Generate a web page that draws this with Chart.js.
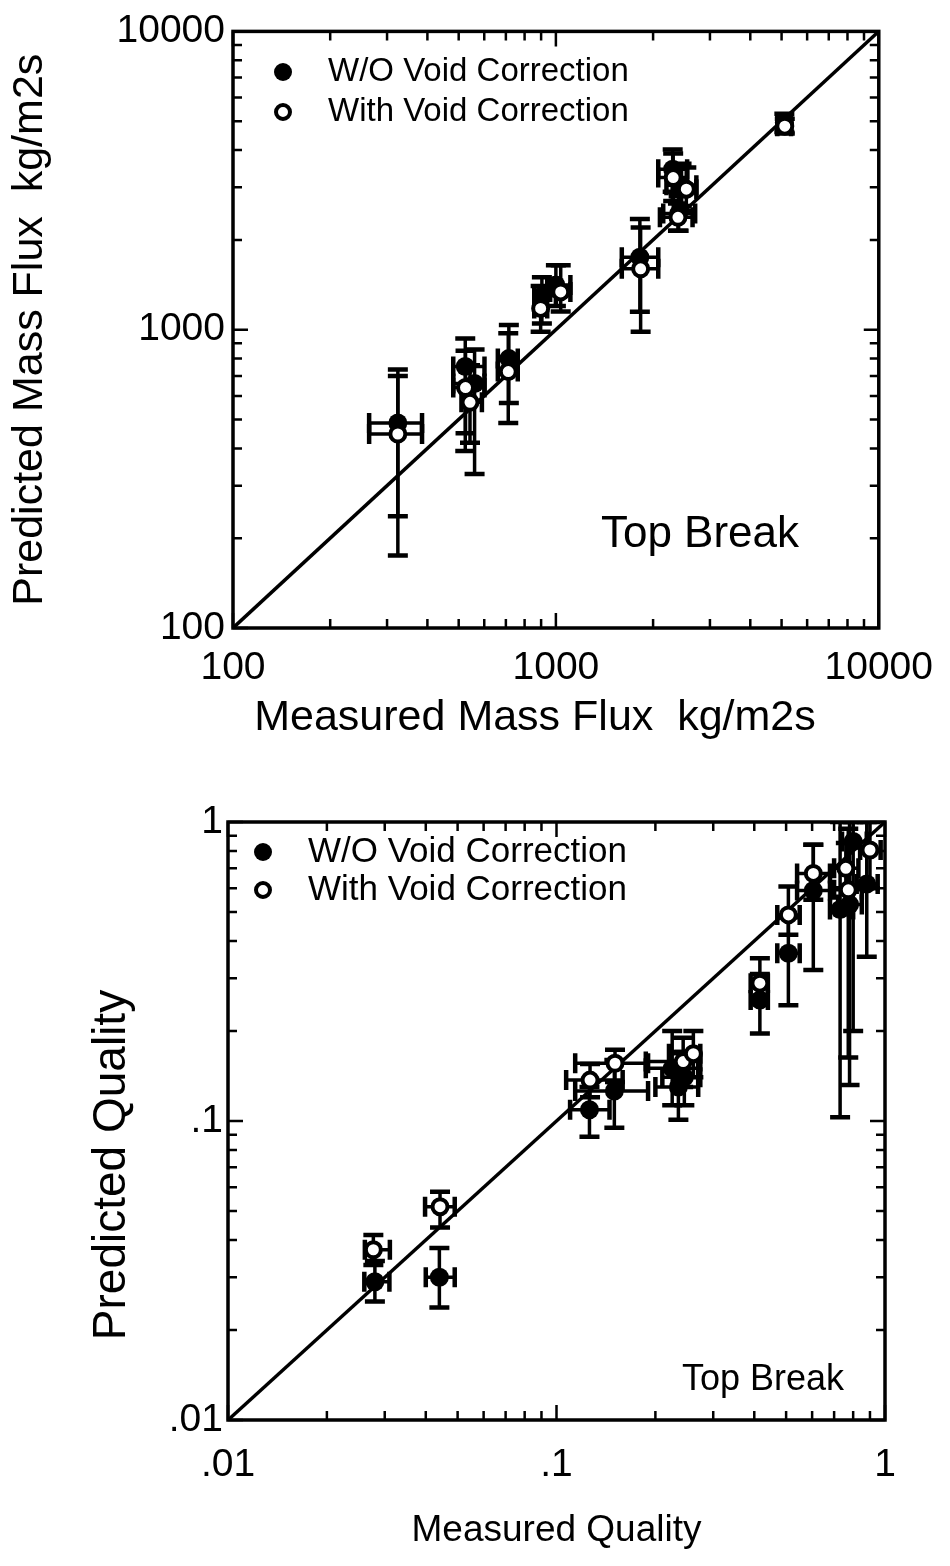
<!DOCTYPE html>
<html>
<head>
<meta charset="utf-8">
<title>Top Break: predicted vs measured</title>
<script src="https://cdn.jsdelivr.net/npm/chart.js@4.4.1/dist/chart.umd.min.js"></script>
<style>
  html, body { margin: 0; padding: 0; background: #fff; }
  #page { position: relative; width: 950px; height: 1566px; overflow: hidden; }
  #fluxBox { position: absolute; left: 0; top: 0; width: 950px; height: 760px; }
  #qualBox { position: absolute; left: 0; top: 760px; width: 950px; height: 806px; }
</style>
</head>
<body>
<div id="page">
  <div id="fluxBox"><canvas id="fluxChart" width="950" height="760"></canvas></div>
  <div id="qualBox"><canvas id="qualChart" width="950" height="806"></canvas></div>
</div>
<script>
// ---- Mass flux, kg/m2s (measured x, predicted y; error ranges as [low, high]) ----
const fluxWO_x    = [324, 524, 560, 715, 905, 1000, 1820, 2300, 2450, 2400, 5100];
const fluxWO_y    = [487, 753, 660, 800, 1300, 1413, 1750, 3450, 3050, 2450, 4950];
const fluxWO_xErr = [[264,385],[481,601],[481,601],[661,762],[857,1000],[940,1109],[1600,2075],[2075,2550],[2200,2723],[2150,2700],[4850,5350]];
const fluxWO_yErr = [[237,736],[392,935],[328,858],[568,1037],[1050,1500],[1200,1644],[1148,2350],[2900,4020],[2600,3600],[2148,2800],[4600,5300]];

const fluxW_x    = [324, 542, 525, 712, 897, 1035, 1830, 2308, 2535, 2388, 5116];
const fluxW_y    = [447, 571, 640, 724, 1178, 1339, 1600, 3236, 2958, 2381, 4810];
const fluxW_xErr = [[264,385],[510,590],[481,601],[661,762],[857,940],[960,1109],[1600,2075],[2075,2550],[2300,2723],[2100,2650],[4850,5350]];
const fluxW_yErr = [[175,700],[418,760],[450,850],[487,973],[985,1400],[1150,1644],[985,2200],[2700,3900],[2500,3500],[2148,2650],[4550,5100]];

// ---- Quality (measured x, predicted y) ----
const qualWO_x    = [0.028, 0.044, 0.126, 0.150, 0.225, 0.235, 0.245, 0.416, 0.508, 0.605, 0.73, 0.78, 0.80, 0.88];
const qualWO_y    = [0.029, 0.030, 0.109, 0.126, 0.150, 0.130, 0.140, 0.254, 0.364, 0.59, 0.51, 0.53, 0.86, 0.62];
const qualWO_xErr = [[0.026,0.031],[0.040,0.049],[0.110,0.145],[0.114,0.19],[0.187,0.27],[0.20,0.27],[0.21,0.274],[0.39,0.44],[0.47,0.55],[0.54,0.68],[0.68,0.80],[0.72,0.85],[0.74,0.88],[0.82,0.95]];
const qualWO_yErr = [[0.0249,0.034],[0.0238,0.0376],[0.0885,0.13],[0.095,0.16],[0.113,0.20],[0.101,0.17],[0.113,0.17],[0.196,0.31],[0.244,0.48],[0.32,0.84],[0.103,1.0],[0.132,1.0],[0.2,1.0],[0.354,1.0]];

const qualW_x    = [0.0277, 0.0442, 0.1265, 0.1507, 0.243, 0.261, 0.416, 0.508, 0.605, 0.773, 0.76, 0.90];
const qualW_y    = [0.0371, 0.0517, 0.137, 0.156, 0.158, 0.168, 0.289, 0.489, 0.673, 0.593, 0.70, 0.806];
const qualW_xErr = [[0.0261,0.0311],[0.0398,0.049],[0.107,0.159],[0.114,0.19],[0.187,0.274],[0.22,0.274],[0.39,0.44],[0.47,0.55],[0.54,0.68],[0.70,0.85],[0.70,0.83],[0.84,0.97]];
const qualW_yErr = [[0.033,0.0416],[0.044,0.058],[0.12,0.155],[0.135,0.173],[0.13,0.19],[0.14,0.20],[0.25,0.35],[0.42,0.608],[0.55,0.84],[0.163,0.95],[0.6,0.85],[0.6,1.0]];

// ---- Axis ticks and labels ----
const fluxTicks = [100, 1000, 10000];
const fluxTickLabels = ['100', '1000', '10000'];
const qualTicks = [0.01, 0.1, 1];
const qualTickLabels = ['.01', '.1', '1'];

const seriesNames = ['W/O Void Correction', 'With Void Correction'];

const INK = '#000';

// Prefer the condensed face when it is installed; sizes below are given for the
// regular face and scaled up so that text keeps the same width in the narrow one.
const NARROW = (() => {
  const c = document.createElement('canvas').getContext('2d');
  const sample = 'Measured Mass Flux 10000';
  c.font = '40px monospace';
  const a = c.measureText(sample).width;
  c.font = '40px "Liberation Sans Narrow", monospace';
  const b = c.measureText(sample).width;
  return Math.abs(a - b) > 1;
})();
const FONT = NARROW ? '"Liberation Sans Narrow", "Liberation Sans", Arial, sans-serif'
                    : '"Liberation Sans", Arial, Helvetica, sans-serif';
const fs = s => NARROW ? Math.round(s / 0.82) : s;

function points(xs, ys) { return xs.map((x, i) => ({ x: x, y: ys[i] })); }

// Frame around the plot area, with inward log ticks on all four sides
const frameTicks = {
  id: 'frameTicks',
  afterDraw(chart) {
    const { ctx, chartArea: a, scales: { x, y } } = chart;
    ctx.save();
    ctx.strokeStyle = INK;
    ctx.lineWidth = 2.5;
    const drawAxisTicks = (scale, horizontal) => {
      const lo = Math.log10(scale.min), hi = Math.log10(scale.max);
      for (let e = Math.floor(lo); e <= Math.ceil(hi); e++) {
        for (let k = 1; k <= 9; k++) {
          const v = k * Math.pow(10, e);
          if (v < scale.min * 0.999 || v > scale.max * 1.001) continue;
          const len = k === 1 ? 15 : 9;
          const p = scale.getPixelForValue(v);
          ctx.beginPath();
          if (horizontal) {
            ctx.moveTo(p, a.bottom); ctx.lineTo(p, a.bottom - len);
            ctx.moveTo(p, a.top); ctx.lineTo(p, a.top + len);
          } else {
            ctx.moveTo(a.left, p); ctx.lineTo(a.left + len, p);
            ctx.moveTo(a.right, p); ctx.lineTo(a.right - len, p);
          }
          ctx.stroke();
        }
      }
    };
    drawAxisTicks(x, true);
    drawAxisTicks(y, false);
    ctx.lineWidth = 3.5;
    ctx.strokeRect(a.left, a.top, a.right - a.left, a.bottom - a.top);
    ctx.restore();
  }
};

// Capped error bars taken from each dataset's xErr / yErr ranges
const errorBars = {
  id: 'errorBars',
  beforeDatasetsDraw(chart) {
    const { ctx, chartArea: a, scales: { x, y } } = chart;
    ctx.save();
    ctx.beginPath();
    ctx.rect(a.left, a.top - 1, a.right - a.left, a.bottom - a.top + 2);
    ctx.clip();
    ctx.strokeStyle = INK;
    const cap = 10;
    chart.data.datasets.forEach(ds => {
      if (!ds.xErr) return;
      ds.data.forEach((pt, i) => {
        const px = x.getPixelForValue(pt.x), py = y.getPixelForValue(pt.y);
        const [xl, xh] = ds.xErr[i], [yl, yh] = ds.yErr[i];
        const xlp = x.getPixelForValue(xl), xhp = x.getPixelForValue(xh);
        const ylp = y.getPixelForValue(yl), yhp = y.getPixelForValue(yh);
        ctx.lineWidth = 3.5;
        ctx.beginPath();
        ctx.moveTo(xlp, py); ctx.lineTo(xhp, py);
        ctx.moveTo(px, ylp); ctx.lineTo(px, yhp);
        ctx.stroke();
        ctx.lineWidth = 4.5;
        ctx.beginPath();
        ctx.moveTo(xlp, py - cap); ctx.lineTo(xlp, py + cap);
        ctx.moveTo(xhp, py - cap); ctx.lineTo(xhp, py + cap);
        ctx.moveTo(px - cap, ylp); ctx.lineTo(px + cap, ylp);
        ctx.moveTo(px - cap, yhp); ctx.lineTo(px + cap, yhp);
        ctx.stroke();
      });
    });
    ctx.restore();
  }
};

// Key, caption and placed axis titles
const keyAndCaption = {
  id: 'keyAndCaption',
  afterDraw(chart, args, opts) {
    const { ctx } = chart;
    ctx.save();
    ctx.fillStyle = INK;
    ctx.strokeStyle = INK;
    ctx.font = fs(opts.keyFont) + 'px ' + FONT;
    ctx.textBaseline = 'middle';
    ctx.textAlign = 'left';
    opts.names.forEach((name, i) => {
      const cy = opts.keyY + i * opts.keyGap;
      ctx.beginPath();
      if (i === 0) {
        ctx.arc(opts.keyX, cy, 9, 0, Math.PI * 2);
        ctx.fill();
      } else {
        ctx.lineWidth = 4;
        ctx.arc(opts.keyX, cy, 7, 0, Math.PI * 2);
        ctx.fillStyle = '#fff'; ctx.fill();
        ctx.stroke();
        ctx.fillStyle = INK;
      }
      ctx.fillText(name, opts.textX, cy);
    });
    ctx.font = fs(opts.capFont) + 'px ' + FONT;
    ctx.textAlign = 'center';
    ctx.fillText(opts.caption, opts.capX, opts.capY);
    (opts.titles || []).forEach(t => {
      ctx.save();
      ctx.translate(t.x, t.y);
      if (t.vertical) ctx.rotate(-Math.PI / 2);
      ctx.font = fs(t.size) + 'px ' + FONT;
      ctx.fillText(t.text, 0, 0);
      ctx.restore();
    });
    ctx.restore();
  }
};

function makeChart(canvasId, cfg) {
  const xs = cfg.ticks;
  const labelFor = v => {
    const i = xs.findIndex(t => Math.abs(t - v) / t < 1e-6);
    return i >= 0 ? cfg.labels[i] : '';
  };
  const axis = (extra) => Object.assign({
    type: 'logarithmic',
    min: xs[0], max: xs[xs.length - 1],
    grid: { display: false, drawTicks: false },
    border: { display: false },
    afterBuildTicks: s => { s.ticks = xs.map(v => ({ value: v, major: true })); }
  }, extra);
  const title = t => t
    ? { display: true, text: t.text, color: INK, font: { family: FONT, size: fs(t.size) }, padding: t.padding }
    : { display: false };

  return new Chart(document.getElementById(canvasId), {
    type: 'scatter',
    data: {
      datasets: [
        {
          label: seriesNames[1],
          data: points(cfg.w.x, cfg.w.y),
          xErr: cfg.w.xErr, yErr: cfg.w.yErr,
          pointStyle: 'circle', pointRadius: 7.5, borderWidth: 4,
          backgroundColor: '#fff', borderColor: INK, order: 1
        },
        {
          label: seriesNames[0],
          data: points(cfg.wo.x, cfg.wo.y),
          xErr: cfg.wo.xErr, yErr: cfg.wo.yErr,
          pointStyle: 'circle', pointRadius: 9.5, borderWidth: 0,
          backgroundColor: INK, borderColor: INK, order: 2
        },
        {
          label: 'y = x',
          type: 'line',
          data: [{ x: xs[0], y: xs[0] }, { x: xs[xs.length - 1], y: xs[xs.length - 1] }],
          borderColor: INK, borderWidth: 3.5, pointRadius: 0, order: 3
        }
      ]
    },
    options: {
      responsive: false,
      animation: false,
      devicePixelRatio: 1,
      layout: { padding: cfg.padding },
      scales: {
        x: axis({
          position: 'bottom',
          ticks: { color: INK, font: { family: FONT, size: fs(cfg.tickSize) }, padding: cfg.xTickPad, maxRotation: 0, autoSkip: false, callback: labelFor },
          title: title(cfg.xTitle),
          afterFit: s => { s.height = cfg.xAxisHeight; }
        }),
        y: axis({
          position: 'left',
          ticks: { color: INK, font: { family: FONT, size: fs(cfg.tickSize) }, padding: cfg.yTickPad, autoSkip: false, callback: labelFor },
          title: title(cfg.yTitle),
          afterFit: s => { s.width = cfg.yAxisWidth; }
        })
      },
      plugins: {
        legend: { display: false },
        tooltip: { enabled: false },
        keyAndCaption: Object.assign({ names: seriesNames }, cfg.key)
      }
    },
    plugins: [errorBars, frameTicks, keyAndCaption]
  });
}

makeChart('fluxChart', {
  ticks: fluxTicks, labels: fluxTickLabels,
  wo: { x: fluxWO_x, y: fluxWO_y, xErr: fluxWO_xErr, yErr: fluxWO_yErr },
  w:  { x: fluxW_x,  y: fluxW_y,  xErr: fluxW_xErr,  yErr: fluxW_yErr },
  padding: { left: 0, right: 65, top: 28, bottom: 0 },
  xAxisHeight: 132, yAxisWidth: 233,
  tickSize: 39, xTickPad: 17, yTickPad: 8,
  xTitle: null,
  yTitle: { text: 'Predicted Mass Flux  kg/m2s', size: 43, padding: { top: 4, bottom: 0 } },
  key: { keyX: 283, keyY: 72, keyGap: 40, textX: 328, keyFont: 33,
         caption: 'Top Break', capX: 700, capY: 535, capFont: 44,
         titles: [{ text: 'Measured Mass Flux  kg/m2s', x: 535, y: 718, size: 43 }] }
});

makeChart('qualChart', {
  ticks: qualTicks, labels: qualTickLabels,
  wo: { x: qualWO_x, y: qualWO_y, xErr: qualWO_xErr, yErr: qualWO_yErr },
  w:  { x: qualW_x,  y: qualW_y,  xErr: qualW_xErr,  yErr: qualW_yErr },
  padding: { left: 0, right: 65, top: 62, bottom: 0 },
  xAxisHeight: 146, yAxisWidth: 228,
  tickSize: 39, xTickPad: 22, yTickPad: 5,
  xTitle: { text: 'Measured Quality', size: 37, padding: { top: 0, bottom: 13 } },
  yTitle: null,
  key: { keyX: 263, keyY: 92, keyGap: 38, textX: 308, keyFont: 35,
         caption: 'Top Break', capX: 763, capY: 620, capFont: 36,
         titles: [{ text: 'Predicted Quality', x: 112, y: 405, size: 46, vertical: true }] }
});
</script>
</body>
</html>
